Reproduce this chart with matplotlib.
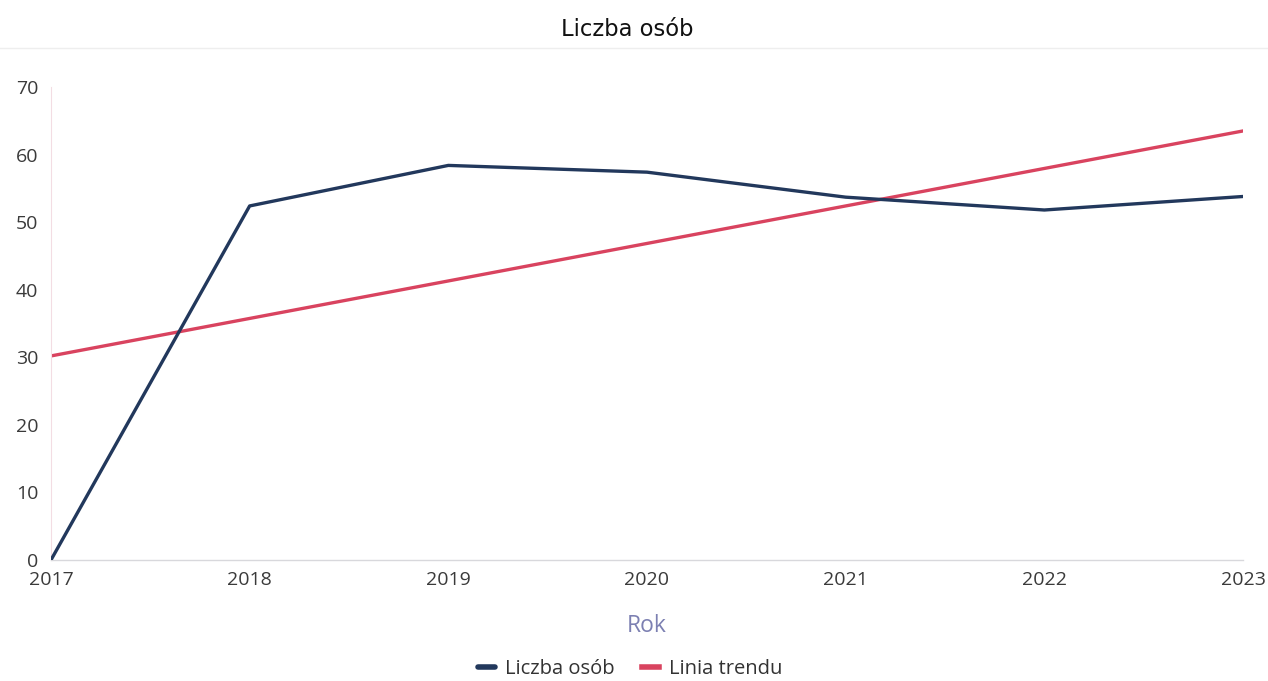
import matplotlib
matplotlib.use("Agg")
import matplotlib.pyplot as plt

years = [2017, 2018, 2019, 2020, 2021, 2022, 2023]
liczba_osob = [0, 52.4, 58.4, 57.4, 53.7, 51.8, 53.8]
trend_years = [2017, 2023]
trend_values = [30.2, 63.5]
y_ticks = [0, 10, 20, 30, 40, 50, 60, 70]

plt.rcParams['font.family'] = ['Open Sans', 'DejaVu Sans']

fig = plt.figure(figsize=(12.68, 6.81), dpi=100)
ax = fig.add_axes([0.0402, 0.1777, 0.9401, 0.6945])

navy = '#22385c'
red = '#d9435f'

ax.plot(years, liczba_osob, color=navy, lw=2.4, label='Liczba osób', solid_capstyle='round', zorder=3)
ax.plot(trend_years, trend_values, color=red, lw=2.4, label='Linia trendu', zorder=2)

ax.set_xlim(years[0], years[-1])
ax.set_ylim(0, 70)
ax.set_yticks(y_ticks)
ax.set_xticks(years)
ax.set_xticklabels([str(y) for y in years])

for s in ['top', 'right']:
    ax.spines[s].set_visible(False)
ax.spines['left'].set_color('#f3dde3')
ax.spines['left'].set_linewidth(0.8)
ax.spines['bottom'].set_color('#d8d8dc')
ax.spines['bottom'].set_linewidth(1.0)

ax.tick_params(axis='both', length=0, labelsize=14, colors='#3a3a3a')
ax.tick_params(axis='y', pad=9)
ax.tick_params(axis='x', pad=8)

ax.set_xlabel('Rok', color='#7c80b2', fontsize=16.5, labelpad=18)

fig.text(0.4945, 0.957, 'Liczba osób', ha='center', va='center', fontsize=16.3, color='#111111',
         family=['DejaVu Sans'])
fig.add_artist(plt.Line2D([0.0, 1.0], [0.93, 0.93], color='#eeeeee', lw=1.0))

leg = fig.legend(loc='center', bbox_to_anchor=(0.497, 0.018), ncol=2, frameon=False,
                 fontsize=14.5, handlelength=0.8, handletextpad=0.5, columnspacing=1.4)
for t in leg.get_texts():
    t.set_color('#333333')
for h in leg.legend_handles:
    h.set_linewidth(4)

fig.savefig('out.png', dpi=100, facecolor='white')
